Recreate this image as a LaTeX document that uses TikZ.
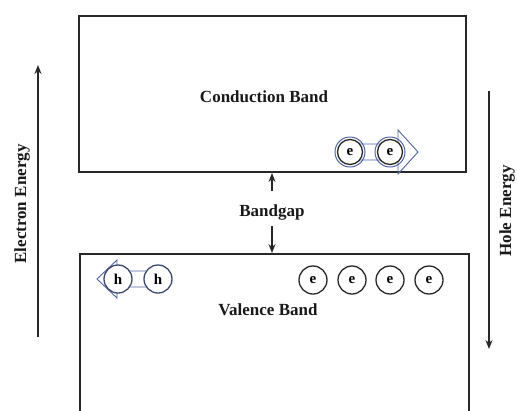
\documentclass[tikz,border=0pt]{standalone}
\usepackage{fontspec}
\setmainfont{Liberation Serif}
\usetikzlibrary{arrows.meta}
\definecolor{linegray}{RGB}{40,40,40}
\definecolor{flowblue}{RGB}{80,100,165}
\begin{document}
\begin{tikzpicture}[x=1pt,y=-1pt,
  band/.style={draw=linegray, line width=2pt, inner sep=0pt},
  lbl/.style={font=\fontsize{17}{20}\selectfont\bfseries, inner sep=0pt, text=black!90},
  ptcl/.style={circle, draw=linegray, line width=1.3pt, fill=white, minimum size=28pt, inner sep=0pt,
    font=\fontsize{15}{16}\selectfont\bfseries},
  flow/.style={draw=flowblue, line width=0.9pt, line join=miter},
  axis/.style={draw=linegray, line width=1.4pt, -{Stealth[length=9pt,width=7pt]}}
]
\clip (0,0) rectangle (517,410);
\fill[white] (0,0) rectangle (517,410);

% bands
\node[band, anchor=north west, minimum width=387pt, minimum height=156pt] (cb) at (78,15) {};
\node[band, anchor=north west, minimum width=389pt, minimum height=200pt] (vb) at (79,253) {};
\node[lbl] (cbl) at (264,97) {Conduction Band};
\node[lbl] (vbl) at (268,310) {Valence Band};

% bandgap
\node[lbl] (bg) at (272,212) {Bandgap};
\coordinate (bgt) at (272,191);
\coordinate (bgb) at (272,226);
\draw[axis, line width=1.2pt] (bgt) -- (bgt |- cb.south);
\draw[axis, line width=1.2pt] (bgb) -- (bgb |- vb.north);

% energy axes
\coordinate (ea1) at (38,337);
\coordinate (ea2) at (38,65);
\draw[axis] (ea1) -- (ea2);
\node[lbl, rotate=90] (eal) at (22,204) {Electron Energy};
\coordinate (ha1) at (489,91);
\coordinate (ha2) at (489,349);
\draw[axis] (ha1) -- (ha2);
\node[lbl, rotate=90] (hal) at (507,211) {Hole Energy};

% conduction electrons moving right
\draw[flow] (350,144) -- (398,144) -- (398,130) -- (418,152) -- (398,174) -- (398,160) -- (350,160) -- cycle;
\node[circle, draw=flowblue, line width=1pt, minimum size=30pt, inner sep=0pt] (b1) at (350,152) {};
\node[circle, draw=flowblue, line width=1pt, minimum size=30pt, inner sep=0pt] (b2) at (390,152) {};
\node[ptcl, minimum size=25pt] (e1) at (b1) {e};
\node[ptcl, minimum size=25pt] (e2) at (b2) {e};

% valence holes moving left
\draw[flow] (158,271) -- (117,271) -- (117,260) -- (97,279) -- (117,298) -- (117,287) -- (158,287) -- cycle;
\node[ptcl, draw=flowblue!55!linegray] (h1) at (118,279) {h};
\node[ptcl, draw=flowblue!55!linegray] (h2) at (158,279) {h};

% valence electrons
\node[ptcl] (v1) at (313,280) {e};
\node[ptcl] (v2) at (352,280) {e};
\node[ptcl] (v3) at (390,280) {e};
\node[ptcl] (v4) at (429,280) {e};
\end{tikzpicture}
\end{document}
